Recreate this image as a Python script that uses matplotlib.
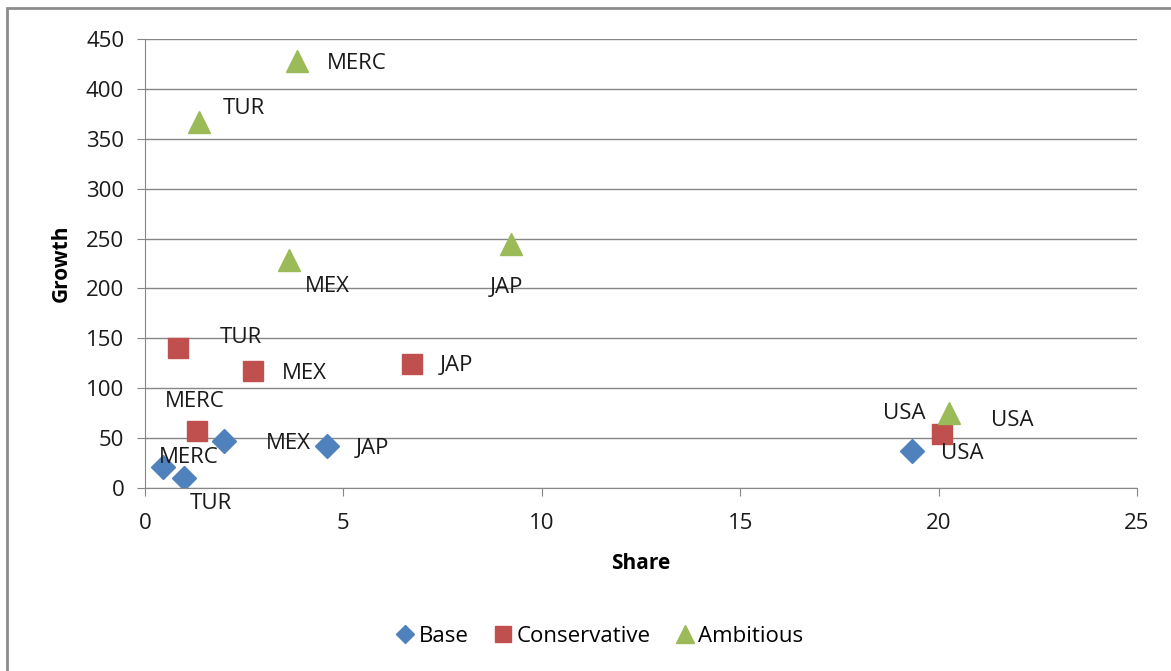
import numpy as np
import matplotlib
matplotlib.use('Agg')
import matplotlib.pyplot as plt
from matplotlib.patches import Rectangle

plt.rcParams['font.family'] = ['Open Sans', 'DejaVu Sans']

countries = ['MERC', 'TUR', 'MEX', 'JAP', 'USA']

base_share = [0.45, 0.98, 2.0, 4.59, 19.33]
base_growth = [21, 10, 47, 42, 37]

cons_share = [1.31, 0.83, 2.72, 6.73, 20.09]
cons_growth = [57, 140, 117, 124, 54]

amb_share = [3.83, 1.36, 3.63, 9.22, 20.26]
amb_growth = [428, 367, 229, 245, 75]

# label offsets in pixels (dx, dy), dy positive = up
base_off = [(26, 10), (27, -25), (64, -2), (45, -2), (50, -2)]
cons_off = [(-2, 30), (63, 11), (51, -2), (44, -1), (-38, 21)]
amb_off = [(60, -3), (45, 13), (38, -27), (-4, -44), (63, -7)]

blue = '#4F81BD'
red = '#C0504D'
green = '#9BBB59'

fig = plt.figure(figsize=(11.71, 6.71), dpi=100)
ax = fig.add_axes([145/1171, 1-488/671, (1137-145)/1171, (488-39)/671])

ax.plot(base_share, base_growth, 'D', color=blue, markersize=12, label='Base', linestyle='none')
ax.plot(cons_share, cons_growth, 's', color=red, markersize=15, label='Conservative', linestyle='none')
ax.plot(amb_share, amb_growth, '^', color=green, markersize=16, label='Ambitious', linestyle='none')

px = 72.0 / 100
for xs, ys, offs in [(base_share, base_growth, base_off),
                     (cons_share, cons_growth, cons_off),
                     (amb_share, amb_growth, amb_off)]:
    for name, x, y, (dx, dy) in zip(countries, xs, ys, offs):
        ax.annotate(name, (x, y), xytext=(dx*px, dy*px), textcoords='offset points',
                    ha='center', va='center', fontsize=16, color='#1a1a1a')

ax.set_xlim(0, 25)
ax.set_ylim(0, 450)
ax.set_xticks(np.arange(0, 26, 5))
ax.set_yticks(np.arange(0, 451, 50))
ax.grid(axis='y', color='#868686', linewidth=1)
ax.set_axisbelow(True)
for s in ['top', 'right']:
    ax.spines[s].set_visible(False)
ax.spines['left'].set_color('#868686')
ax.spines['bottom'].set_color('#868686')
ax.tick_params(axis='both', colors='#868686', labelcolor='#1a1a1a', labelsize=16, length=6)
ax.tick_params(axis='x', pad=12)
ax.tick_params(axis='y', pad=9)
ax.set_xlabel('Share', fontsize=15, fontweight='bold', labelpad=14)
ax.set_ylabel('Growth', fontsize=15, fontweight='bold', labelpad=10)

fig.legend(loc='center', bbox_to_anchor=(598/1171, 1-636/671), ncol=3, frameon=False,
           fontsize=16, handletextpad=0.05, columnspacing=1.0, handlelength=1.1,
           markerscale=0.8)

fig.patches.append(Rectangle((7/1171, -0.1), 1.2, 1-8/671+0.1, transform=fig.transFigure,
                             fill=False, edgecolor='#8c8c8c', linewidth=2))

fig.savefig('out.png', dpi=100)
